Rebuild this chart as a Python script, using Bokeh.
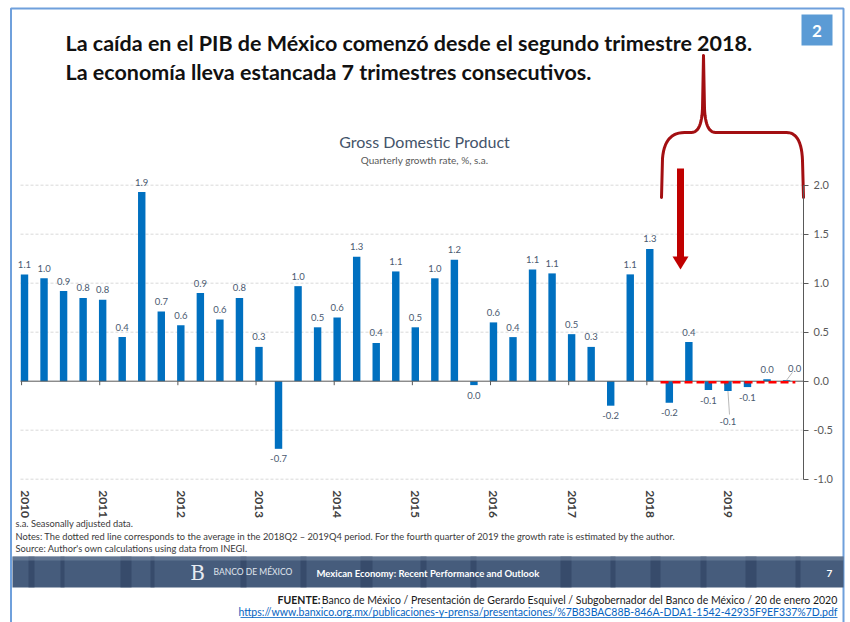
import numpy as np
from bokeh.plotting import figure
from bokeh.models import LinearAxis, FixedTicker, Range1d, ColumnDataSource
from bokeh.core.properties import value
from bokeh.embed import file_html
from bokeh.resources import INLINE

# ---------------- data ----------------
years = ["2010", "2011", "2012", "2013", "2014", "2015", "2016", "2017", "2018", "2019"]
quarters = [f"{y}Q{q}" for y in years for q in range(1, 5)]
gdp_growth = [
    1.09, 1.05, 0.92, 0.85,
    0.83, 0.45, 1.93, 0.71,
    0.57, 0.90, 0.63, 0.85,
    0.35, -0.69, 0.97, 0.55,
    0.65, 1.27, 0.39, 1.12,
    0.55, 1.05, 1.24, -0.04,
    0.60, 0.45, 1.14, 1.10,
    0.48, 0.35, -0.25, 1.09,
    1.35, -0.22, 0.40, -0.09,
    -0.10, -0.06, 0.02, 0.01,
]
value_labels = [
    "1.1", "1.0", "0.9", "0.8",
    "0.8", "0.4", "1.9", "0.7",
    "0.6", "0.9", "0.6", "0.8",
    "0.3", "-0.7", "1.0", "0.5",
    "0.6", "1.3", "0.4", "1.1",
    "0.5", "1.0", "1.2", "0.0",
    "0.6", "0.4", "1.1", "1.1",
    "0.5", "0.3", "-0.2", "1.1",
    "1.3", "-0.2", "0.4", "-0.1",
    "-0.1", "-0.1", "0.0", "0.0",
]
y_ticks = [-1.0, -0.5, 0.0, 0.5, 1.0, 1.5, 2.0]
y_tick_labels = ["-1.0", "-0.5", "0.0", "0.5", "1.0", "1.5", "2.0"]
avg_start, avg_end = "2018Q2", "2019Q4"
avg_value = -0.01

header_1 = "La caída en el PIB de México comenzó desde el segundo trimestre 2018."
header_2 = "La economía lleva estancada 7 trimestres consecutivos."
chart_title = "Gross Domestic Product"
chart_subtitle = "Quarterly growth rate, %, s.a."
note_lines = [
    "s.a. Seasonally adjusted data.",
    "Notes: The dotted red line corresponds to the average in the 2018Q2 \u2013 2019Q4 period. For the fourth quarter of 2019 the growth rate is estimated by the author.",
    "Source: Author's own calculations using data from INEGI.",
]
footer_title = "Mexican Economy: Recent Performance and Outlook"
footer_page = "7"
bank_name = "BANCO DE MÉXICO"
source_label = "FUENTE:"
source_text = "Banco de México / Presentación de Gerardo Esquivel / Subgobernador del Banco de México / 20 de enero 2020"
source_url = "https://www.banxico.org.mx/publicaciones-y-prensa/presentaciones/%7B83BAC88B-846A-DDA1-1542-42935F9EF337%7D.pdf"
slide_number = "2"

# ---------------- layout (pixels) ----------------
W, H = 850, 622
X0, DX = 24.0, 19.54     # pixel of first bar, pixels per quarter
Y0, DY = 380.7, 98.0     # pixel of zero line, pixels per 1 pct point


def sx(px):
    return (px - X0) / DX


def sy(py):
    return (Y0 - py) / DY


FONT = value("Lato")

p = figure(width=W, height=H,
           x_range=Range1d(sx(0), sx(W)), y_range=Range1d(sy(H), sy(0)),
           output_backend="svg", toolbar_location=None,
           x_axis_location=None, y_axis_location=None,
           min_border=0, outline_line_color=None,
           background_fill_color="white", border_fill_color="white")
p.grid.visible = False

idx = list(range(len(quarters)))

# gridlines
grid_vals = [t for t in y_ticks if t != 0.0]
p.segment(x0=[sx(20)] * len(grid_vals), x1=[sx(802)] * len(grid_vals),
          y0=grid_vals, y1=grid_vals, line_color="#D9D9D9", line_width=1,
          line_dash="3 2")

# bars
src = ColumnDataSource(dict(x=idx, top=gdp_growth, lab=value_labels))
p.vbar(x="x", top="top", bottom=0, width=0.38, source=src,
       fill_color="#0070C0", line_color=None)

# zero line with year tick marks
p.line(x=[sx(20), sx(803)], y=[0, 0], line_color="#595959", line_width=1)
year_starts = [4 * k - 0.15 for k in range(len(years))]
p.segment(x0=year_starts, x1=year_starts, y0=[0] * len(years),
          y1=[-4 / DY] * len(years), line_color="#595959", line_width=1)

# average dashed line
i0, i1 = quarters.index(avg_start), quarters.index(avg_end)
p.line(x=[i0 - 0.45, i1 + 0.45], y=[avg_value, avg_value],
       line_color="#FF0000", line_width=2.5, line_dash="8 4")

# data labels
xo, yo = [], []
for i, v in enumerate(gdp_growth):
    xo.append(0)
    yo.append(-10 if v >= 0 else 10)
yo[quarters.index("2019Q1")] = 30
xo[quarters.index("2019Q4")] = 8
yo[quarters.index("2019Q4")] = -12
lab_src = ColumnDataSource(dict(x=idx, y=gdp_growth, lab=value_labels, xo=xo, yo=yo))
p.text(x="x", y="y", text="lab", x_offset="xo", y_offset="yo", source=lab_src,
       text_align="center", text_baseline="middle", text_font=FONT,
       text_font_size="9.5px", text_color="#4A5A70")
# leader lines
iq = quarters.index("2019Q1")
p.segment(x0=[iq, 39], x1=[iq + 0.08, 39 + 0.3], y0=[gdp_growth[iq], gdp_growth[39]],
          y1=[gdp_growth[iq] - 0.24, gdp_growth[39] + 0.08],
          line_color="#A6A6A6", line_width=0.8)

# axes
year_axis = LinearAxis(fixed_location=-1.0,
                       ticker=FixedTicker(ticks=[4 * k for k in range(len(years))]),
                       major_label_overrides={4 * k: y for k, y in enumerate(years)},
                       axis_line_color=None, major_tick_line_color=None,
                       minor_tick_line_color=None, major_label_orientation="vertical",
                       major_label_standoff=5, major_label_text_font="Lato",
                       major_label_text_font_size="12px", major_label_text_font_style="bold",
                       major_label_text_color="#404040")
p.add_layout(year_axis, "below")

y_axis = LinearAxis(fixed_location=sx(803), bounds=(-1.0, 2.0),
                    ticker=FixedTicker(ticks=y_ticks),
                    major_label_overrides=dict(zip(y_ticks, y_tick_labels)),
                    axis_line_color="#595959", major_tick_line_color="#595959",
                    major_tick_out=5, major_tick_in=0, minor_tick_line_color=None,
                    major_label_standoff=5, major_label_text_font="Lato",
                    major_label_text_font_size="11px", major_label_text_color="#595959")
p.add_layout(y_axis, "right")


def txt(px, py, s, size, color="#000000", style="normal", align="left", font=FONT):
    p.text(x=[sx(px)], y=[sy(py)], text=[s], text_font=font, text_font_size=size,
           text_font_style=style, text_color=color, text_align=align,
           text_baseline="middle")


# slide border
p.line(x=[sx(10.5), sx(10.5), sx(843), sx(843)], y=[sy(H), sy(8), sy(8), sy(H)],
       line_color="#6FA0DC", line_width=2)

# header
txt(65, 42, header_1, "21.5px", "#111111", "bold")
txt(65, 71, header_2, "21.5px", "#111111", "bold")
p.quad(left=[sx(801)], right=[sx(832)], top=[sy(14)], bottom=[sy(45)],
       fill_color="#5B9BD5", line_color=None)
txt(816.5, 30, slide_number, "17px", "white", "bold", "center")

# chart title
txt(424, 141, chart_title, "16px", "#44546A", "normal", "center")
txt(424, 159, chart_subtitle, "10px", "#595959", "normal", "center")

# bracket


def qbez(a, c, b, n=14):
    t = np.linspace(0, 1, n)[:, None]
    a, c, b = np.array(a), np.array(c), np.array(b)
    return (1 - t) ** 2 * a + 2 * (1 - t) * t * c + t ** 2 * b


pts = [np.array([[661, 197], [662, 158]]),
       qbez((662, 158), (664, 132), (684, 132)),
       np.array([[691, 132]]),
       qbez((691, 132), (701, 132), (702, 108)),
       np.array([[703, 55], [704, 108]]),
       qbez((704, 108), (705, 132), (715, 132)),
       np.array([[786, 132]]),
       qbez((786, 132), (801, 132), (802, 160)),
       np.array([[803, 197]])]
path = np.vstack(pts)
p.line(x=[sx(v) for v in path[:, 0]], y=[sy(v) for v in path[:, 1]],
       line_color="#A30F12", line_width=3, line_join="round", line_cap="round")

# arrow
p.quad(left=[sx(676.5)], right=[sx(683.5)], top=[sy(168)], bottom=[sy(258)],
       fill_color="#C00000", line_color=None)
p.patch(x=[sx(672), sx(688), sx(680)], y=[sy(256), sy(256), sy(269)],
        fill_color="#C00000", line_color=None)

# notes
for k, line in enumerate(note_lines):
    txt(15, 523 + 12.5 * k, line, "9.3px", "#3A3A3A")

# footer band
p.quad(left=[sx(12)], right=[sx(843)], top=[sy(556)], bottom=[sy(587)],
       fill_color="#465C7C", line_color=None)
stripe_px = [(28, 34), (60, 64), (120, 131), (150, 154), (240, 246), (300, 306),
             (360, 372), (420, 426), (470, 476), (560, 571), (610, 615),
             (650, 660), (700, 706), (745, 756), (795, 800)]
p.quad(left=[sx(a) for a, b in stripe_px], right=[sx(b) for a, b in stripe_px],
       top=[sy(556)] * len(stripe_px), bottom=[sy(587)] * len(stripe_px),
       fill_color="#2C3E5C", fill_alpha=0.55, line_color=None)
p.quad(left=[sx(12)], right=[sx(843)], top=[sy(556)], bottom=[sy(560)],
       fill_color="#7D8FA8", fill_alpha=0.5, line_color=None)
txt(197, 572, "B", "20px", "#E6EBF2", "normal", "center", value("DejaVu Serif"))
txt(213, 571, bank_name, "8.5px", "#E0E6EE")
txt(316, 573, footer_title, "9.5px", "white", "bold")
txt(829, 573, footer_page, "10px", "white", "bold", "center")

# source
txt(837, 599, source_text, "10.5px", "#1A1A1A", "normal", "right")
txt(320, 599, source_label, "10.5px", "#1A1A1A", "bold", "right")
txt(837, 611, source_url, "10.5px", "#0563C1", "normal", "right")
p.segment(x0=[sx(240)], x1=[sx(837)], y0=[sy(617)], y1=[sy(617)],
          line_color="#0563C1", line_width=0.8)

open("out.html", "w").write(file_html(p, INLINE))
